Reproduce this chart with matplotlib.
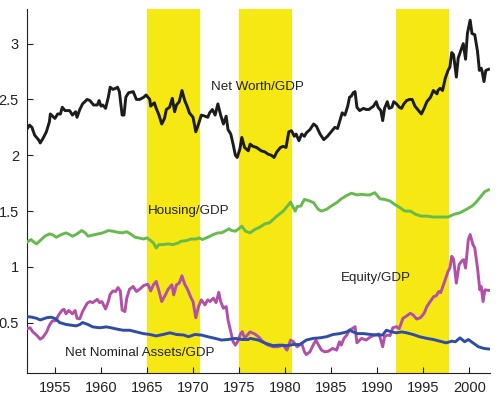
import matplotlib
matplotlib.use("Agg")
import matplotlib.pyplot as plt

plt.rcParams['font.family'] = ['Liberation Sans', 'DejaVu Sans']

# recession / shaded periods
bands = [(1965.0, 1970.8), (1975.0, 1980.8), (1992.0, 1997.8)]

# Net Worth / GDP
nw_year = [1952.0, 1952.25, 1952.5, 1952.8, 1953.3, 1953.4, 1953.7, 1954.07, 1954.4, 1954.5,
           1955.0, 1955.3, 1955.6, 1955.8, 1956.1, 1956.6, 1956.9, 1957.25, 1957.4, 1957.7,
           1958.0, 1958.5, 1958.8, 1959.2, 1959.6, 1959.8, 1960.0, 1960.2, 1960.5, 1960.8,
           1961.0, 1961.3, 1961.6, 1961.8, 1962.0, 1962.3, 1962.5, 1962.7, 1963.0, 1963.5,
           1963.85, 1964.2, 1964.65, 1964.9, 1965.3, 1965.4, 1965.8, 1966.0, 1966.3, 1966.6,
           1966.9, 1967.1, 1967.45, 1967.75, 1968.0, 1968.2, 1968.5, 1968.8, 1969.1, 1969.4,
           1969.6, 1970.0, 1970.3, 1970.6, 1970.9, 1971.3, 1971.6, 1971.8, 1972.1, 1972.4,
           1972.7, 1973.0, 1973.3, 1973.6, 1973.8, 1974.1, 1974.35, 1974.6, 1974.8, 1975.1,
           1975.3, 1975.6, 1976.0, 1976.2, 1976.5, 1976.9, 1977.4, 1977.8, 1978.15, 1978.5,
           1978.8, 1979.1, 1979.5, 1979.8, 1980.1, 1980.4, 1980.7, 1981.0, 1981.2, 1981.5,
           1981.8, 1982.1, 1982.3, 1982.7, 1983.1, 1983.4, 1983.8, 1984.2, 1984.6, 1985.0,
           1985.4, 1985.7, 1985.95, 1986.2, 1986.5, 1986.8, 1987.0, 1987.2, 1987.4, 1987.6,
           1987.8, 1988.1, 1988.5, 1988.8, 1989.1, 1989.6, 1989.9, 1990.1, 1990.4, 1990.6,
           1990.8, 1991.1, 1991.3, 1991.6, 1991.8, 1992.1, 1992.4, 1992.65, 1992.9, 1993.2,
           1993.5, 1993.8, 1994.1, 1994.5, 1994.8, 1995.1, 1995.4, 1995.8, 1996.1, 1996.5,
           1996.6, 1996.85, 1997.1, 1997.4, 1997.7, 1997.9, 1998.1, 1998.3, 1998.6, 1998.8,
           1999.1, 1999.35, 1999.6, 1999.8, 2000.1, 2000.3, 2000.6, 2000.9, 2001.1, 2001.3,
           2001.4, 2001.6, 2001.8, 2002.1]
nw_val = [2.24, 2.27, 2.25, 2.18, 2.13, 2.11, 2.15, 2.21, 2.30, 2.37,
          2.33, 2.37, 2.37, 2.43, 2.40, 2.40, 2.36, 2.39, 2.34, 2.41,
          2.46, 2.50, 2.49, 2.45, 2.45, 2.49, 2.44, 2.45, 2.42, 2.52,
          2.61, 2.59, 2.60, 2.61, 2.57, 2.36, 2.36, 2.52, 2.56, 2.57,
          2.50, 2.50, 2.52, 2.54, 2.50, 2.44, 2.47, 2.42, 2.36, 2.28,
          2.33, 2.41, 2.43, 2.51, 2.39, 2.45, 2.48, 2.58, 2.49, 2.43,
          2.38, 2.34, 2.21, 2.28, 2.36, 2.35, 2.34, 2.38, 2.41, 2.36,
          2.46, 2.36, 2.28, 2.35, 2.23, 2.19, 2.10, 2.00, 1.98, 2.06,
          2.16, 2.07, 2.04, 2.10, 2.08, 2.07, 2.04, 2.03, 2.01, 2.00,
          1.98, 2.03, 2.07, 2.08, 2.07, 2.21, 2.22, 2.17, 2.19, 2.13,
          2.19, 2.17, 2.20, 2.23, 2.28, 2.26, 2.19, 2.14, 2.17, 2.21,
          2.25, 2.24, 2.31, 2.38, 2.36, 2.44, 2.52, 2.53, 2.56, 2.57,
          2.43, 2.40, 2.42, 2.41, 2.41, 2.44, 2.48, 2.43, 2.40, 2.31,
          2.42, 2.48, 2.42, 2.43, 2.48, 2.46, 2.43, 2.42, 2.46, 2.49,
          2.50, 2.50, 2.44, 2.40, 2.37, 2.42, 2.48, 2.52, 2.58, 2.55,
          2.58, 2.60, 2.58, 2.69, 2.76, 2.79, 2.92, 2.90, 2.70, 2.87,
          2.94, 3.00, 2.86, 3.09, 3.21, 3.09, 3.08, 2.93, 2.76, 2.78,
          2.75, 2.66, 2.76, 2.77]

# Housing / GDP
hs_year = [1952.0, 1952.4, 1952.7, 1953.0, 1953.4, 1953.9, 1954.4, 1954.7, 1955.15, 1955.7,
           1956.2, 1956.6, 1956.9, 1957.3, 1957.9, 1958.3, 1958.6, 1959.1, 1959.7, 1960.2,
           1960.8, 1961.3, 1961.85, 1962.3, 1962.8, 1963.2, 1963.7, 1964.1, 1964.6, 1965.0,
           1965.4, 1965.7, 1966.0, 1966.3, 1966.75, 1967.3, 1967.8, 1968.4, 1968.7, 1969.3,
           1969.8, 1970.35, 1970.7, 1971.0, 1971.6, 1972.2, 1972.7, 1973.1, 1973.9, 1974.2,
           1974.6, 1975.0, 1975.3, 1975.7, 1976.2, 1976.7, 1977.25, 1977.8, 1978.3, 1979.1,
           1979.8, 1980.3, 1980.6, 1980.9, 1981.1, 1981.3, 1981.7, 1982.1, 1982.7, 1983.1,
           1983.6, 1983.95, 1984.5, 1985.0, 1985.6, 1986.1, 1986.7, 1987.2, 1987.8, 1988.3,
           1988.85, 1989.2, 1989.75, 1990.3, 1990.8, 1991.4, 1991.9, 1992.5, 1993.0, 1993.6,
           1994.2, 1994.8, 1995.4, 1996.1, 1997.0, 1997.7, 1998.3, 1999.0, 1999.7, 2000.3,
           2000.7, 2001.15, 2001.7, 2002.1]
hs_val = [1.224, 1.245, 1.224, 1.206, 1.236, 1.275, 1.296, 1.29, 1.266, 1.29,
          1.305, 1.29, 1.275, 1.29, 1.326, 1.305, 1.275, 1.285, 1.296, 1.305,
          1.326, 1.32, 1.31, 1.305, 1.315, 1.296, 1.266, 1.26, 1.25, 1.26,
          1.236, 1.215, 1.17, 1.20, 1.20, 1.206, 1.20, 1.215, 1.23, 1.236,
          1.25, 1.25, 1.26, 1.245, 1.266, 1.29, 1.305, 1.305, 1.341, 1.326,
          1.32, 1.344, 1.365, 1.32, 1.305, 1.335, 1.356, 1.386, 1.395, 1.455,
          1.50, 1.55, 1.58, 1.53, 1.50, 1.54, 1.545, 1.605, 1.59, 1.575,
          1.516, 1.50, 1.516, 1.545, 1.575, 1.61, 1.64, 1.66, 1.645, 1.65,
          1.645, 1.645, 1.665, 1.61, 1.605, 1.59, 1.56, 1.53, 1.50, 1.50,
          1.47, 1.455, 1.455, 1.447, 1.447, 1.447, 1.47, 1.485, 1.516, 1.545,
          1.575, 1.62, 1.675, 1.69]

# Equity / GDP
eq_year = [1952.0, 1952.3, 1952.6, 1953.0, 1953.4, 1953.7, 1954.1, 1954.4, 1954.7, 1955.1,
           1955.4, 1955.8, 1956.0, 1956.2, 1956.5, 1956.9, 1957.2, 1957.4, 1957.7, 1958.0,
           1958.5, 1958.8, 1959.1, 1959.6, 1959.85, 1960.1, 1960.5, 1960.8, 1961.0, 1961.3,
           1961.6, 1961.85, 1962.1, 1962.3, 1962.6, 1962.8, 1963.1, 1963.5, 1963.85, 1964.2,
           1964.65, 1965.1, 1965.4, 1965.7, 1966.0, 1966.3, 1966.6, 1967.0, 1967.3, 1967.7,
           1967.9, 1968.2, 1968.5, 1968.8, 1969.1, 1969.4, 1969.8, 1970.0, 1970.3, 1970.6,
           1970.9, 1971.3, 1971.6, 1971.85, 1972.2, 1972.5, 1972.8, 1973.0, 1973.3, 1973.6,
           1973.8, 1974.1, 1974.35, 1974.6, 1974.85, 1975.15, 1975.35, 1975.6, 1976.0, 1976.2,
           1976.7, 1977.1, 1977.6, 1978.15, 1978.7, 1979.2, 1979.8, 1980.2, 1980.6, 1980.9,
           1981.3, 1981.8, 1982.1, 1982.3, 1982.7, 1983.05, 1983.35, 1983.6, 1983.95, 1984.3,
           1984.7, 1985.15, 1985.6, 1985.9, 1986.1, 1986.4, 1986.7, 1987.0, 1987.3, 1987.6,
           1987.8, 1988.3, 1988.8, 1989.3, 1989.75, 1990.2, 1990.6, 1990.8, 1991.1, 1991.4,
           1991.7, 1992.1, 1992.4, 1992.8, 1993.1, 1993.6, 1993.9, 1994.3, 1994.7, 1995.1,
           1995.4, 1995.8, 1996.15, 1996.4, 1996.7, 1996.9, 1997.35, 1997.7, 1997.9, 1998.1,
           1998.3, 1998.6, 1998.9, 1999.2, 1999.4, 1999.6, 1999.9, 2000.1, 2000.4, 2000.6,
           2000.9, 2001.15, 2001.3, 2001.5, 2001.7, 2002.1]
eq_val = [0.448, 0.455, 0.418, 0.39, 0.353, 0.37, 0.418, 0.478, 0.515, 0.52,
          0.57, 0.614, 0.62, 0.58, 0.61, 0.58, 0.61, 0.54, 0.535, 0.60,
          0.674, 0.69, 0.68, 0.71, 0.68, 0.69, 0.623, 0.69, 0.755, 0.785,
          0.78, 0.815, 0.785, 0.614, 0.60, 0.72, 0.80, 0.825, 0.78, 0.80,
          0.834, 0.845, 0.785, 0.84, 0.87, 0.785, 0.69, 0.75, 0.80, 0.84,
          0.75, 0.84, 0.855, 0.92, 0.845, 0.80, 0.72, 0.69, 0.545, 0.645,
          0.705, 0.66, 0.705, 0.69, 0.72, 0.68, 0.773, 0.69, 0.63, 0.645,
          0.525, 0.42, 0.33, 0.30, 0.33, 0.40, 0.42, 0.36, 0.40, 0.418,
          0.40, 0.375, 0.33, 0.30, 0.285, 0.285, 0.30, 0.255, 0.345, 0.33,
          0.285, 0.315, 0.24, 0.215, 0.24, 0.30, 0.345, 0.305, 0.255, 0.24,
          0.245, 0.27, 0.255, 0.33, 0.30, 0.36, 0.39, 0.435, 0.448, 0.465,
          0.32, 0.36, 0.345, 0.375, 0.39, 0.40, 0.285, 0.375, 0.39, 0.385,
          0.455, 0.465, 0.448, 0.54, 0.555, 0.585, 0.57, 0.533, 0.545, 0.585,
          0.645, 0.695, 0.735, 0.74, 0.78, 0.77, 0.875, 0.96, 0.99, 1.095,
          1.07, 0.855, 1.02, 1.055, 1.065, 0.99, 1.245, 1.29, 1.20, 1.17,
          0.99, 0.795, 0.825, 0.69, 0.795, 0.79]

# Net Nominal Assets / GDP
nn_year = [1952.0, 1952.5, 1953.0, 1953.4, 1954.1, 1954.6, 1955.1, 1955.5, 1956.25, 1956.8,
           1957.3, 1957.7, 1958.0, 1958.6, 1959.1, 1959.85, 1960.6, 1961.1, 1961.75, 1962.4,
           1963.1, 1963.85, 1964.6, 1965.3, 1966.0, 1966.75, 1967.5, 1968.2, 1969.0, 1969.5,
           1970.2, 1970.9, 1971.6, 1972.4, 1973.1, 1973.8, 1974.6, 1975.3, 1976.0, 1976.2,
           1977.1, 1977.9, 1978.7, 1979.4, 1980.2, 1980.9, 1981.6, 1982.3, 1983.05, 1983.8,
           1984.5, 1985.2, 1985.95, 1986.7, 1987.0, 1987.8, 1988.5, 1989.3, 1990.0, 1990.6,
           1991.0, 1991.6, 1992.1, 1992.65, 1993.2, 1993.9, 1994.6, 1995.4, 1996.1, 1996.8,
           1997.5, 1998.1, 1998.5, 1999.0, 1999.5, 1999.9, 2000.4, 2001.0, 2001.6, 2002.1]
nn_val = [0.555, 0.55, 0.54, 0.525, 0.545, 0.55, 0.535, 0.502, 0.484, 0.478,
          0.472, 0.484, 0.502, 0.484, 0.463, 0.455, 0.463, 0.455, 0.443, 0.433,
          0.433, 0.418, 0.403, 0.395, 0.382, 0.395, 0.41, 0.395, 0.39, 0.375,
          0.395, 0.39, 0.375, 0.36, 0.345, 0.35, 0.36, 0.35, 0.35, 0.36,
          0.345, 0.315, 0.295, 0.30, 0.295, 0.305, 0.305, 0.345, 0.36, 0.365,
          0.375, 0.395, 0.403, 0.418, 0.433, 0.403, 0.403, 0.395, 0.39, 0.39,
          0.433, 0.418, 0.41, 0.418, 0.41, 0.395, 0.375, 0.36, 0.35, 0.335,
          0.32, 0.335, 0.33, 0.365, 0.33, 0.35, 0.32, 0.285, 0.27, 0.265]

fig = plt.figure(figsize=(5.02, 3.98), dpi=100)
ax = fig.add_axes([0.0544, 0.0628, 0.9216, 0.9146])

for start, end in bands:
    ax.axvspan(start, end, color='#f5e813', lw=0, zorder=0)

lw = 2.1
ax.plot(nw_year, nw_val, color='#1c1c1c', lw=lw, zorder=3)
ax.plot(hs_year, hs_val, color='#66bb4c', lw=lw, zorder=3)
ax.plot(eq_year, eq_val, color='#b24fa8', lw=lw, zorder=3)
ax.plot(nn_year, nn_val, color='#2f4da8', lw=lw, zorder=4)

txt = dict(fontsize=9.6, color='#222222', va='center', ha='left')
ax.text(1972.0, 2.61, 'Net Worth/GDP', **txt)
ax.text(1965.1, 1.50, 'Housing/GDP', **txt)
ax.text(1986.05, 0.90, 'Equity/GDP', **txt)
ax.text(1956.05, 0.225, 'Net Nominal Assets/GDP', **txt)

ax.set_xlim(1952, 2002.25)
ax.set_ylim(0.05, 3.31)
ax.set_xticks([1955, 1960, 1965, 1970, 1975, 1980, 1985, 1990, 1995, 2000])
ax.set_yticks([0.5, 1, 1.5, 2, 2.5, 3])
ax.set_yticklabels(['0.5', '1', '1.5', '2', '2.5', '3'])
ax.tick_params(direction='in', length=4, width=0.8, labelsize=10.5,
               labelcolor='#222222', color='#222222', pad=6)
ax.spines['top'].set_visible(False)
ax.spines['right'].set_visible(False)
for s in ['left', 'bottom']:
    ax.spines[s].set_color('#222222')
    ax.spines[s].set_linewidth(0.8)

fig.savefig('out.png', dpi=100)
